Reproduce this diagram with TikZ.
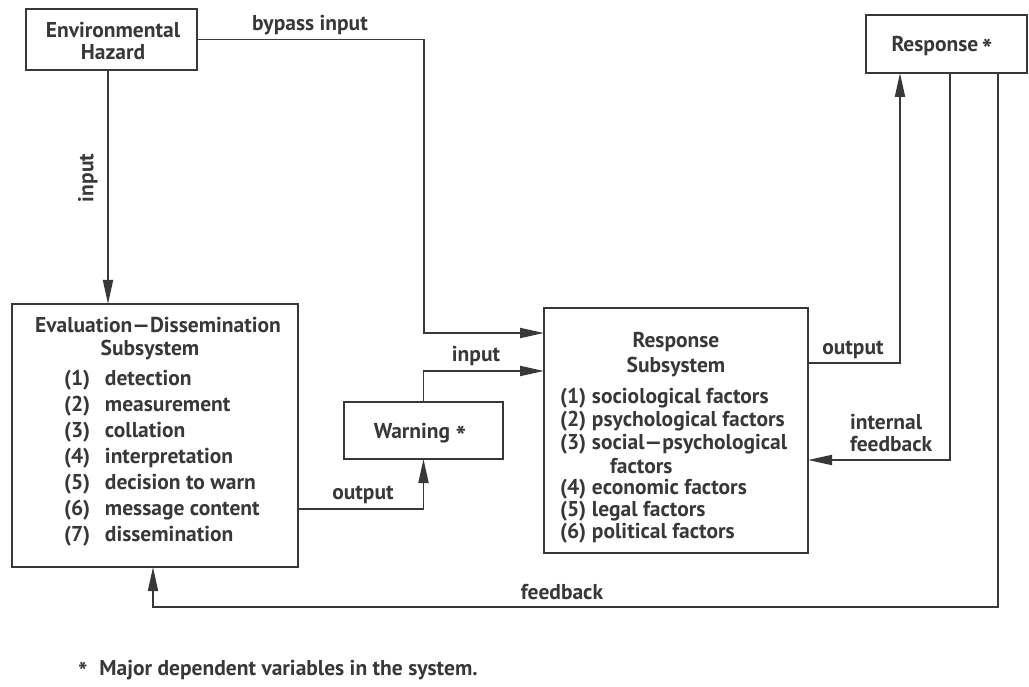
\documentclass[tikz,border=0pt]{standalone}
\usepackage{fontspec}
\setmainfont{PT Sans}
\usetikzlibrary{arrows.meta}
\definecolor{ink}{HTML}{383838}
\newcommand{\dvstar}{\raisebox{-8pt}[0pt][0pt]{\fontsize{28}{28}\selectfont *}}
\newcommand{\notestar}{\raisebox{-5pt}[0pt][0pt]{\fontsize{25}{25}\selectfont *}}
\begin{document}
\begin{tikzpicture}[x=1pt,y=-1pt,
  every node/.style={text=ink, font=\fontsize{21.5}{22}\selectfont\bfseries, inner sep=0pt, outer sep=0pt},
  box/.style={draw=ink, line width=2pt, rectangle},
  wire/.style={draw=ink, line width=1.8pt},
  arr/.style={wire, -{Triangle[length=24pt,width=10pt]}},
]
\useasboundingbox (0,0) rectangle (1029,687);

% boxes
\node[box, minimum width=171pt, minimum height=61pt] (eh) at (111.5,39.5) {};
\node[box, minimum width=286pt, minimum height=263pt] (ev) at (155,435.5) {};
\node[box, minimum width=159pt, minimum height=57pt] (wn) at (423.5,430.5) {};
\node[box, minimum width=264pt, minimum height=245pt] (rs) at (676,430.5) {};
\node[box, minimum width=161pt, minimum height=58pt] (rp) at (946.5,44) {};

% box texts
\node[align=center] (ehtxt) at (113,41) {Environmental\\Hazard};
\node (evt1) at (158,325) {Evaluation\textemdash Dissemination};
\node (evt2) at (150,350) {Subsystem};
\foreach \i/\t [count=\k from 0] in {1/detection,2/measurement,3/collation,4/interpretation,5/decision to warn,6/message content,7/dissemination}
  \node[anchor=west] (ev\i) at (64,380+26*\k) {\makebox[41pt][l]{(\i)}\t};
\node[anchor=base] (wntxt) at (420,438) {Warning \dvstar};
\node (rst1) at (676,342) {Response};
\node (rst2) at (676,367) {Subsystem};
\node[anchor=west] (rs1) at (560,398) {\makebox[32pt][l]{(1)}sociological factors};
\node[anchor=west] (rs2) at (560,421) {\makebox[32pt][l]{(2)}psychological factors};
\node[anchor=west] (rs3) at (560,444) {\makebox[32pt][l]{(3)}social\textemdash psychological};
\node[anchor=west] (rs3b) at (610,466) {factors};
\node[anchor=west] (rs4) at (560,489) {\makebox[32pt][l]{(4)}economic factors};
\node[anchor=west] (rs5) at (560,511) {\makebox[32pt][l]{(5)}legal factors};
\node[anchor=west] (rs6) at (560,533) {\makebox[32pt][l]{(6)}political factors};
\node[anchor=base] (rptxt) at (942,52) {Response\,\dvstar};

% connector labels
\node (lbyp) at (310,25) {bypass input};
\node[rotate=90] (lin) at (88,178) {input};
\node (lwin) at (476,356) {input};
\node (lout1) at (363,495) {output};
\node (lout2) at (853,350) {output};
\node[align=left, anchor=west] (lif) at (850,433) {internal\\feedback};
\node (lfb) at (562,592) {feedback};
\node[anchor=base west] (fn) at (78,675) {\notestar\hspace{12pt}Major dependent variables in the system.};

% bend points
\coordinate (bp) at (424,333);
\coordinate (wo) at (424,509);
\coordinate (wi) at (0,371);
\coordinate (ro) at (900,363);
\coordinate (fi) at (950,460);
\coordinate (fb) at (998,607);
\coordinate (fc) at (153,607);

% connectors
\draw[arr] ([xshift=-3.5pt]eh.south) -- ([xshift=-3.5pt]eh.south |- ev.north);
\draw[arr] (eh.east) -| (bp) -- (bp -| rs.west);
\draw[arr] (ev.east |- wo) -| (wn.south);
\draw[arr] (wn.north) |- (rs.west |- wi);
\draw[arr] (rs.east |- ro) -| (rp.south -| ro);
\draw[arr] (rp.south -| fi) |- (rs.east |- fi);
\draw[arr] (rp.south -| fb) |- (fc) -- (fc |- ev.south);
\end{tikzpicture}
\end{document}
